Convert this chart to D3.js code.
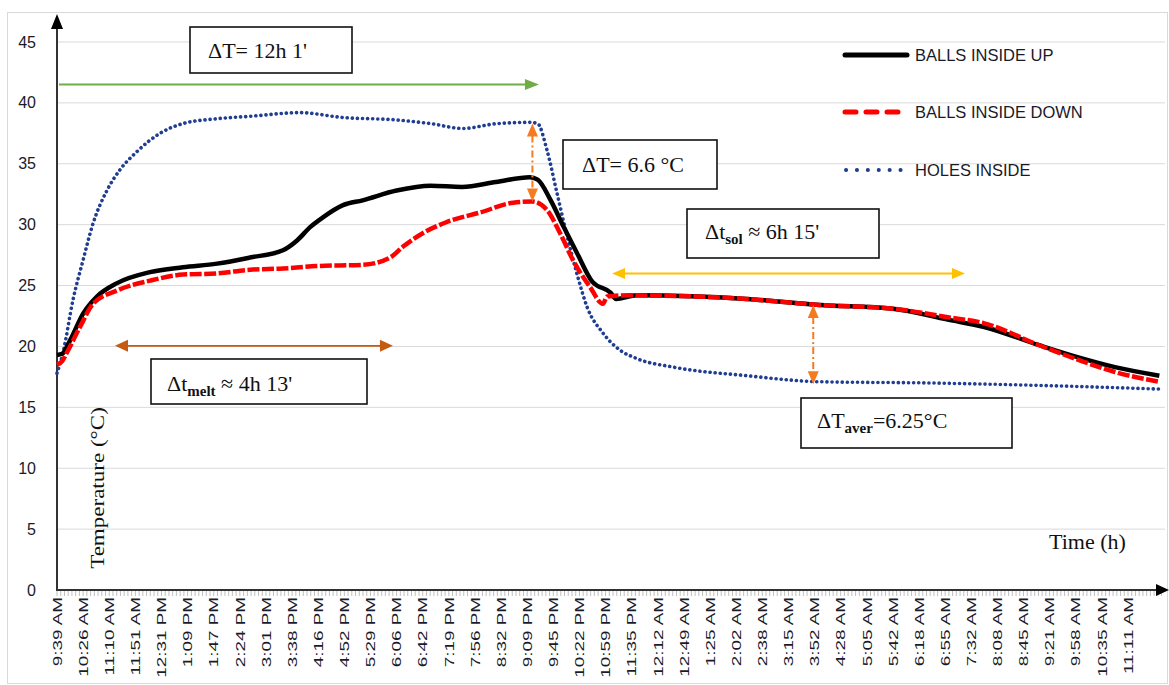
<!DOCTYPE html>
<html><head><meta charset="utf-8">
<script src="https://cdn.jsdelivr.net/npm/d3@7"></script>
<style>body{margin:0;background:#fff}svg{display:block}</style>
</head><body>
<svg id="c" width="1169" height="685"></svg>
<script>
const timeLabels = ["9:39 AM","10:26 AM","11:10 AM","11:51 AM","12:31 PM","1:09 PM","1:47 PM","2:24 PM","3:01 PM","3:38 PM","4:16 PM","4:52 PM","5:29 PM","6:06 PM","6:42 PM","7:19 PM","7:56 PM","8:32 PM","9:09 PM","9:45 PM","10:22 PM","10:59 PM","11:35 PM","12:12 AM","12:49 AM","1:25 AM","2:02 AM","2:38 AM","3:15 AM","3:52 AM","4:28 AM","5:05 AM","5:42 AM","6:18 AM","6:55 AM","7:32 AM","8:08 AM","8:45 AM","9:21 AM","9:58 AM","10:35 AM","11:11 AM"];
const yTicks = [0,5,10,15,20,25,30,35,40,45];

// positions in units of time-label index
const upPos  = [0,0.2,0.5,1.0,1.53,2.3,3.56,4.82,6.13,7.39,8.65,9.19,9.69,10.18,10.95,11.7,13.0,14.3,15.5,16.8,18.1,18.4,18.9,19.4,19.9,20.5,21.2,21.4,22.2,26.4,29.2,32.0,34.1,35.5,37.6,39.1,40.5,42.2];
const upVal  = [19.3,19.4,20.5,22.7,24.1,25.2,26.1,26.5,26.8,27.3,27.9,28.7,29.8,30.6,31.6,32.0,32.8,33.2,33.1,33.5,33.9,33.7,32.0,29.8,27.7,25.3,24.4,23.9,24.2,23.9,23.4,23.1,22.2,21.6,20.1,19.1,18.3,17.6];

const downPos = [0,0.2,0.38,0.88,1.38,2.3,3.56,4.82,6.13,7.39,8.65,9.95,11.7,12.75,13.25,14.0,14.9,16.2,17.46,18.2,18.76,19.26,19.75,20.4,20.9,21.06,21.9,26.4,29.2,32.0,34.1,35.5,37.6,39.1,40.5,42.2];
const downVal = [18.5,18.8,19.5,21.6,23.5,24.6,25.4,25.9,26.0,26.3,26.4,26.6,26.7,27.3,28.2,29.3,30.2,31.0,31.8,31.9,31.2,29.3,27.1,24.9,23.5,24.1,24.2,23.9,23.4,23.1,22.4,21.9,20.1,18.9,17.9,17.1];

const holesPos = [0,0.23,0.61,1.0,1.38,1.91,2.41,3.06,3.94,4.82,6.13,7.39,9.3,10.95,13.0,14.3,15.54,16.85,18.1,18.4,18.76,19.14,19.5,19.9,20.3,20.9,21.55,22.2,23.6,26.4,29.2,33.4,37.6,42.2];
const holesVal = [17.8,19.5,23.8,27.1,30.1,32.8,34.5,36.0,37.5,38.3,38.7,38.9,39.2,38.8,38.6,38.3,37.9,38.3,38.4,38.3,36.1,32.6,29.3,26.0,23.2,21.1,19.7,19.0,18.3,17.6,17.1,17.0,16.8,16.5];

const svg = d3.select("#c");
const x = d3.scaleLinear().domain([0, 41]).range([57, 1128]);
const y = d3.scaleLinear().domain([0, 45]).range([590, 42]);
const sans = "'Liberation Sans', Arial, sans-serif";
const serif = "'Liberation Serif', 'Times New Roman', serif";

// frame
svg.append("rect").attr("x",7.5).attr("y",12.5).attr("width",1160).attr("height",671)
  .attr("fill","none").attr("stroke","#d9d9d9");

// gridlines
svg.append("g").selectAll("line").data(yTicks.filter(d=>d>0)).join("line")
  .attr("x1",57).attr("x2",1165).attr("y1",d=>y(d)).attr("y2",d=>y(d))
  .attr("stroke","#d9d9d9").attr("stroke-width",1);

// y tick labels
svg.append("g").selectAll("text").data(yTicks).join("text")
  .attr("x",36).attr("y",d=>y(d)).attr("dy","0.35em").attr("text-anchor","end")
  .attr("font-family",sans).attr("font-size",16).attr("fill","#1a1a2a").text(d=>d);

// x minor ticks
const minor = d3.range(0, 42.3*7).map(i=>i/7);
svg.append("g").selectAll("line").data(minor).join("line")
  .attr("x1",d=>x(d)).attr("x2",d=>x(d)).attr("y1",590).attr("y2",596)
  .attr("stroke","#bfbfbf").attr("stroke-width",1);

// x tick labels
svg.append("g").selectAll("text").data(timeLabels).join("text")
  .attr("transform",(d,i)=>`translate(${x(i)},597) rotate(-90) scale(1.4,1)`)
  .attr("text-anchor","end").attr("dy","0.35em")
  .attr("font-family",sans).attr("font-size",13.5).attr("fill","#1a1a2a").text(d=>d);

// axes
svg.append("line").attr("x1",57).attr("x2",57).attr("y1",590).attr("y2",28)
  .attr("stroke","#333").attr("stroke-width",2);
svg.append("path").attr("d","M57,14 L51,29 L63,29 Z").attr("fill","#000");
svg.append("line").attr("x1",56).attr("x2",1156).attr("y1",590).attr("y2",590)
  .attr("stroke","#333").attr("stroke-width",2);
svg.append("path").attr("d","M1169,590 L1156,584 L1156,596 Z").attr("fill","#000");

// series
const line = d3.line().x(d=>x(d[0])).y(d=>y(d[1])).curve(d3.curveMonotoneX);
const zip = (a,b)=>a.map((v,i)=>[v,b[i]]);
svg.append("path").attr("d",line(zip(holesPos,holesVal))).attr("fill","none")
  .attr("stroke","#1f3d91").attr("stroke-width",3.6).attr("stroke-linecap","round")
  .attr("stroke-dasharray","0.1,5");
svg.append("path").attr("d",line(zip(upPos,upVal))).attr("fill","none")
  .attr("stroke","#000").attr("stroke-width",4.5).attr("stroke-linejoin","round");
svg.append("path").attr("d",line(zip(downPos,downVal))).attr("fill","none")
  .attr("stroke","#ff0000").attr("stroke-width",4.5).attr("stroke-dasharray","12,2.5");

// legend
const leg = svg.append("g");
leg.append("line").attr("x1",845).attr("x2",907).attr("y1",55).attr("y2",55)
  .attr("stroke","#000").attr("stroke-width",5).attr("stroke-linecap","round");
leg.append("line").attr("x1",845).attr("x2",902).attr("y1",112).attr("y2",112)
  .attr("stroke","#ff0000").attr("stroke-width",5).attr("stroke-linecap","round").attr("stroke-dasharray","11,10");
leg.append("line").attr("x1",846).attr("x2",901).attr("y1",170).attr("y2",170)
  .attr("stroke","#1f3d91").attr("stroke-width",4).attr("stroke-linecap","round").attr("stroke-dasharray","0.1,10.8");
[["BALLS INSIDE UP",55],["BALLS INSIDE DOWN",112],["HOLES INSIDE",170]].forEach(([t,yy])=>{
  leg.append("text").attr("x",915).attr("y",yy).attr("dy","0.35em").attr("font-family",sans)
    .attr("font-size",16.5).attr("fill","#1a1a2a").text(t);
});

// arrow helpers
function head(px,py,dir,color,len,w){
  const a = {r:0,l:Math.PI,u:-Math.PI/2,d:Math.PI/2}[dir];
  const c=Math.cos(a), s=Math.sin(a);
  const bx=px-c*len, by=py-s*len;
  svg.append("path").attr("d",`M${px},${py} L${bx - s*w/2},${by + c*w/2} L${bx + s*w/2},${by - c*w/2} Z`).attr("fill",color);
}
// green ΔT time arrow
svg.append("line").attr("x1",x(0)+2).attr("x2",x(18.4)-12).attr("y1",y(41.5)).attr("y2",y(41.5))
  .attr("stroke","#70ad47").attr("stroke-width",2);
head(x(18.45),y(41.5),"r","#70ad47",14,11);
// melt arrow
svg.append("line").attr("x1",x(2.22)+10).attr("x2",x(12.86)-10).attr("y1",y(20.05)).attr("y2",y(20.05))
  .attr("stroke","#c55a11").attr("stroke-width",1.6);
head(x(2.22),y(20.05),"l","#c55a11",13,12);
head(x(12.86),y(20.05),"r","#c55a11",13,12);
// solidification arrow
svg.append("line").attr("x1",x(21.25)+10).attr("x2",x(34.76)-10).attr("y1",y(26.0)).attr("y2",y(26.0))
  .attr("stroke","#ffc000").attr("stroke-width",2);
head(x(21.25),y(26.0),"l","#ffc000",13,11);
head(x(34.76),y(26.0),"r","#ffc000",13,11);
// vertical ΔT arrows
function vArrow(xi,top,bot){
  svg.append("line").attr("x1",x(xi)).attr("x2",x(xi)).attr("y1",y(top)+12).attr("y2",y(bot)-12)
    .attr("stroke","#f47b20").attr("stroke-width",2).attr("stroke-dasharray","7,3,2,3");
  head(x(xi),y(top),"u","#f47b20",13,11);
  head(x(xi),y(bot),"d","#f47b20",13,11);
}
vArrow(18.2,38.3,31.9);
vArrow(28.95,23.4,16.9);

// annotation boxes
function box(x0,y0,x1,y1){
  svg.append("rect").attr("x",x0).attr("y",y0).attr("width",x1-x0).attr("height",y1-y0)
    .attr("fill","#fff").attr("stroke","#111").attr("stroke-width",1.6);
}
function label(tx,ty,parts){
  const t = svg.append("text").attr("x",tx).attr("y",ty).attr("font-family",serif).attr("font-size",22).attr("fill","#111");
  parts.forEach(p=>{
    if(typeof p==="string") t.append("tspan").text(p);
    else t.append("tspan").attr("font-size",p.s).attr("font-weight",p.b?"bold":null).attr("dy",p.dy).text(p.t);
  });
}
box(190,27,352,73); label(208,58,["ΔT= 12h 1'"]);
box(563,140,717,189); label(582,172,["ΔT= 6.6 °C"]);
box(687,209,879,258); label(705,239,["Δt",{t:"sol",s:15,b:true,dy:5},{t:" ≈ 6h 15'",s:22,dy:-5}]);
box(151,359,367,404); label(167,391,["Δt",{t:"melt",s:15,b:true,dy:5},{t:" ≈ 4h 13'",s:22,dy:-5}]);
box(801,398,1012,448); label(817,428,["ΔT",{t:"aver",s:15,b:true,dy:5},{t:"=6.25°C",s:22,dy:-5}]);

// axis titles
svg.append("text").attr("transform","translate(104,488) rotate(-90) scale(1.28,1)")
  .attr("text-anchor","middle").attr("font-family",serif).attr("font-size",18).attr("fill","#111")
  .text("Temperature (°C)");
svg.append("text").attr("x",1049).attr("y",549).attr("font-family",serif).attr("font-size",22)
  .attr("fill","#111").text("Time (h)");
</script>
</body></html>
